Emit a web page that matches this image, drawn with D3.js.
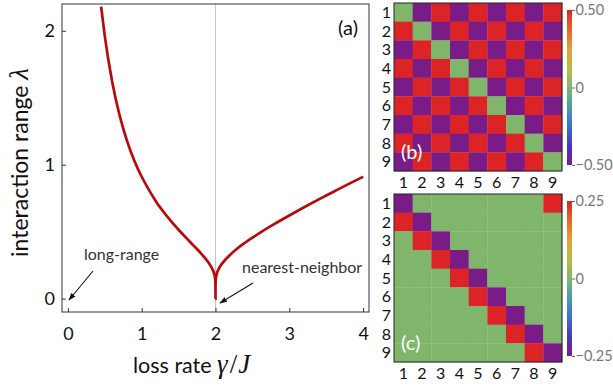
<!DOCTYPE html>
<html>
<head>
<meta charset="utf-8">
<script src="https://cdn.jsdelivr.net/npm/d3@7"></script>
<style>
body { margin: 0; background: #fff; }
svg { display: block; }
text { font-family: Lato, 'Noto Sans', sans-serif; }
</style>
</head>
<body>
<svg width="613" height="389"></svg>
<script>
// curve: loss rate gamma/J vs interaction range lambda
const gammaValues = [0.45, 0.5, 0.6, 0.7, 0.8, 0.9, 1.0, 1.1, 1.2, 1.3, 1.4, 1.5, 1.6, 1.7, 1.8, 1.9, 1.95, 1.98, 1.99, 1.995, 1.999, 2.0,
	2.001, 2.005, 2.01, 2.02, 2.05, 2.1, 2.2, 2.3, 2.4, 2.5, 2.6, 2.8, 3.0, 3.2, 3.4, 3.6, 3.8, 4.0]
const lambdaValues = [2.18, 1.96, 1.62, 1.37, 1.18, 1.03, 0.91, 0.81, 0.72, 0.645, 0.577, 0.514, 0.455, 0.398, 0.34, 0.273, 0.229, 0.189, 0.167, 0.15, 0.121, 0,
	0.121, 0.15, 0.167, 0.189, 0.228, 0.269, 0.328, 0.376, 0.417, 0.455, 0.491, 0.558, 0.621, 0.682, 0.741, 0.798, 0.855, 0.91]
const xTicks = [0, 1, 2, 3, 4]
const yTicks = [0, 1, 2]

// matrices (b) and (c)
const siteLabels = ['1', '2', '3', '4', '5', '6', '7', '8', '9']
const matrixB = [
	[0, -0.5, 0.5, -0.5, 0.5, -0.5, 0.5, -0.5, 0.5],
	[0.5, 0, -0.5, 0.5, -0.5, 0.5, -0.5, 0.5, -0.5],
	[-0.5, 0.5, 0, -0.5, 0.5, -0.5, 0.5, -0.5, 0.5],
	[0.5, -0.5, 0.5, 0, -0.5, 0.5, -0.5, 0.5, -0.5],
	[-0.5, 0.5, -0.5, 0.5, 0, -0.5, 0.5, -0.5, 0.5],
	[0.5, -0.5, 0.5, -0.5, 0.5, 0, -0.5, 0.5, -0.5],
	[-0.5, 0.5, -0.5, 0.5, -0.5, 0.5, 0, -0.5, 0.5],
	[0.5, -0.5, 0.5, -0.5, 0.5, -0.5, 0.5, 0, -0.5],
	[-0.5, 0.5, -0.5, 0.5, -0.5, 0.5, -0.5, 0.5, 0]
]
const matrixC = [
	[-0.25, 0, 0, 0, 0, 0, 0, 0, 0.25],
	[0.25, -0.25, 0, 0, 0, 0, 0, 0, 0],
	[0, 0.25, -0.25, 0, 0, 0, 0, 0, 0],
	[0, 0, 0.25, -0.25, 0, 0, 0, 0, 0],
	[0, 0, 0, 0.25, -0.25, 0, 0, 0, 0],
	[0, 0, 0, 0, 0.25, -0.25, 0, 0, 0],
	[0, 0, 0, 0, 0, 0.25, -0.25, 0, 0],
	[0, 0, 0, 0, 0, 0, 0.25, -0.25, 0],
	[0, 0, 0, 0, 0, 0, 0, 0.25, -0.25]
]
const ticksB = [-0.5, 0, 0.5]
const ticksC = [-0.25, 0, 0.25]

// rainbow colour map
const rainbowStops = [0, 0.12, 0.25, 0.38, 0.5, 0.62, 0.75, 0.88, 1]
const rainbowColors = ['#7a1c88', '#4a36bc', '#3f6fd2', '#4a9fa8', '#80b66c', '#b6bd45', '#e0a23a', '#e6642c', '#dc2426']

const svg = d3.select('svg')
const mathFont = "'Liberation Serif', 'DejaVu Serif', serif"

// ---- panel (a) ----
const x = d3.scaleLinear().domain([-0.08, 4.08]).range([62, 369])
const y = d3.scaleLinear().domain([-0.1, 2.2]).range([312, 4])

svg.append('clipPath').attr('id', 'clipA')
	.append('rect')
	.attr('x', x.range()[0]).attr('y', y.range()[1])
	.attr('width', x.range()[1] - x.range()[0])
	.attr('height', y.range()[0] - y.range()[1])

const gA = svg.append('g')

// grey line at gamma = 2
gA.append('line')
	.attr('x1', x(2)).attr('x2', x(2))
	.attr('y1', y.range()[1]).attr('y2', y.range()[0])
	.attr('stroke', '#c4c4c4')
	.attr('stroke-width', 1)

const points = gammaValues.map((g, i) => [g, lambdaValues[i]])
const line = d3.line()
	.x(d => x(d[0]))
	.y(d => y(d[1]))
	.curve(d3.curveMonotoneX)

gA.append('path')
	.datum(points)
	.attr('clip-path', 'url(#clipA)')
	.attr('d', line)
	.attr('fill', 'none')
	.attr('stroke', '#b80a0a')
	.attr('stroke-width', 2.7)

// axes with inward ticks
const xAxis = gA.append('g')
	.attr('transform', `translate(0,${y.range()[0]})`)
	.call(d3.axisBottom(x).tickValues(xTicks).tickSize(-4).tickPadding(15).tickFormat(d3.format('d')))
const yAxis = gA.append('g')
	.attr('transform', `translate(${x.range()[0]},0)`)
	.call(d3.axisLeft(y).tickValues(yTicks).tickSize(-4).tickPadding(7).tickFormat(d3.format('d')))

for (const ax of [xAxis, yAxis]) {
	ax.select('.domain').remove()
	ax.selectAll('line').attr('stroke', '#333')
	ax.selectAll('text').attr('font-size', 18).attr('fill', '#111').style('font-family', 'Lato, sans-serif')
}

// frame
gA.append('rect')
	.attr('x', x.range()[0]).attr('y', y.range()[1])
	.attr('width', x.range()[1] - x.range()[0])
	.attr('height', y.range()[0] - y.range()[1])
	.attr('fill', 'none')
	.attr('stroke', '#333')
	.attr('stroke-width', 1)

// axis labels
const xl = gA.append('text')
	.attr('x', 133).attr('y', 373)
	.attr('font-size', 21.5)
	.attr('fill', '#111')
xl.append('tspan').text('loss rate ')
xl.append('tspan')
	.style('font-family', mathFont)
	.attr('font-style', 'italic')
	.attr('font-size', 27)
	.text('γ')
xl.append('tspan')
	.style('font-family', mathFont)
	.attr('font-size', 27)
	.attr('dx', 2)
	.text('/')
xl.append('tspan')
	.style('font-family', mathFont)
	.attr('font-style', 'italic')
	.attr('font-size', 27)
	.attr('dx', 1)
	.text('J')

const yl = gA.append('text')
	.attr('transform', 'translate(28,257) rotate(-90)')
	.attr('font-size', 23)
	.attr('fill', '#111')
yl.append('tspan').text('interaction range ')
yl.append('tspan')
	.style('font-family', mathFont)
	.attr('font-style', 'italic')
	.attr('font-size', 27)
	.text('λ')

gA.append('text')
	.attr('x', 358).attr('y', 35)
	.attr('text-anchor', 'end')
	.attr('font-size', 20)
	.attr('fill', '#111')
	.text('(a)')

// annotations
svg.append('defs').append('marker')
	.attr('id', 'arrow')
	.attr('viewBox', '0 0 10 10')
	.attr('refX', 9).attr('refY', 5)
	.attr('markerWidth', 7).attr('markerHeight', 7)
	.attr('orient', 'auto')
	.append('path')
	.attr('d', 'M0,1.5 L10,5 L0,8.5 Z')
	.attr('fill', '#111')

gA.append('text')
	.attr('x', 84).attr('y', 260)
	.attr('font-size', 16)
	.attr('fill', '#333')
	.text('long-range')
gA.append('line')
	.attr('x1', 93).attr('y1', 271)
	.attr('x2', 69).attr('y2', 300)
	.attr('stroke', '#111').attr('stroke-width', 1.1)
	.attr('marker-end', 'url(#arrow)')

gA.append('text')
	.attr('x', 242).attr('y', 273)
	.attr('font-size', 16)
	.attr('fill', '#333')
	.text('nearest-neighbor')
gA.append('line')
	.attr('x1', 253).attr('y1', 283)
	.attr('x2', 220).attr('y2', 303)
	.attr('stroke', '#111').attr('stroke-width', 1.1)
	.attr('marker-end', 'url(#arrow)')

// ---- matrices ----
const gradient = svg.select('defs').append('linearGradient')
	.attr('id', 'rainbow')
	.attr('x1', 0).attr('y1', 1).attr('x2', 0).attr('y2', 0)
gradient.selectAll('stop')
	.data(rainbowStops)
	.enter()
	.append('stop')
	.attr('offset', d => d)
	.attr('stop-color', (d, i) => rainbowColors[i])

const drawMatrix = (matrix, ticks, top, tag) => {
	const vmax = ticks[ticks.length - 1]
	const color = d3.scaleLinear()
		.domain(rainbowStops.map(t => -vmax + 2 * vmax * t))
		.range(rainbowColors)
	const band = d3.scaleBand().domain(siteLabels).range([394, 562])
	const rowBand = d3.scaleBand().domain(siteLabels).range([top, top + 168])
	const g = svg.append('g')

	const cells = matrix.flatMap((row, i) => row.map((v, j) => ({ i, j, v })))
	g.selectAll('rect.cell')
		.data(cells)
		.enter()
		.append('rect')
		.attr('class', 'cell')
		.attr('x', d => band(siteLabels[d.j]))
		.attr('y', d => rowBand(siteLabels[d.i]))
		.attr('width', band.bandwidth() + 0.3)
		.attr('height', rowBand.bandwidth() + 0.3)
		.attr('fill', d => color(d.v))

	g.append('rect')
		.attr('x', 394).attr('y', top)
		.attr('width', 168).attr('height', 168)
		.attr('fill', 'none')
		.attr('stroke', '#222')
		.attr('stroke-width', 1)

	// row labels
	g.selectAll('text.row')
		.data(siteLabels)
		.enter()
		.append('text')
		.attr('class', 'row')
		.attr('x', 391)
		.attr('y', d => rowBand(d) + rowBand.bandwidth() / 2)
		.attr('dy', '0.36em')
		.attr('text-anchor', 'end')
		.attr('font-size', 16)
		.attr('fill', '#111')
		.text(d => d)

	// column labels
	g.selectAll('text.col')
		.data(siteLabels)
		.enter()
		.append('text')
		.attr('class', 'col')
		.attr('x', d => band(d) + band.bandwidth() / 2)
		.attr('y', top + 185)
		.attr('text-anchor', 'middle')
		.attr('font-size', 16)
		.attr('fill', '#111')
		.text(d => d)

	g.append('text')
		.attr('x', 401).attr('y', top + 156)
		.attr('font-size', 20)
		.attr('fill', '#fff')
		.text(tag)

	// colour bar
	const cb = d3.scaleLinear().domain([-vmax, vmax]).range([top + 162, top + 7])
	g.append('rect')
		.attr('x', 567).attr('y', cb.range()[1])
		.attr('width', 5).attr('height', cb.range()[0] - cb.range()[1])
		.attr('fill', 'url(#rainbow)')
	const cbAxis = g.append('g')
		.attr('transform', 'translate(572,0)')
		.call(d3.axisRight(cb).tickValues(ticks).tickSize(3).tickPadding(0.5)
			.tickFormat(d => d === 0 ? '0' : d3.format('.2f')(d).replace('-', '−')))
	cbAxis.select('.domain').remove()
	cbAxis.selectAll('line').attr('stroke', '#666')
	cbAxis.selectAll('text')
		.attr('font-size', 14.5)
		.attr('fill', '#777')
		.style('font-family', 'Lato, sans-serif')
}

drawMatrix(matrixB, ticksB, 3, '(b)')
drawMatrix(matrixC, ticksC, 194, '(c)')
</script>
</body>
</html>
